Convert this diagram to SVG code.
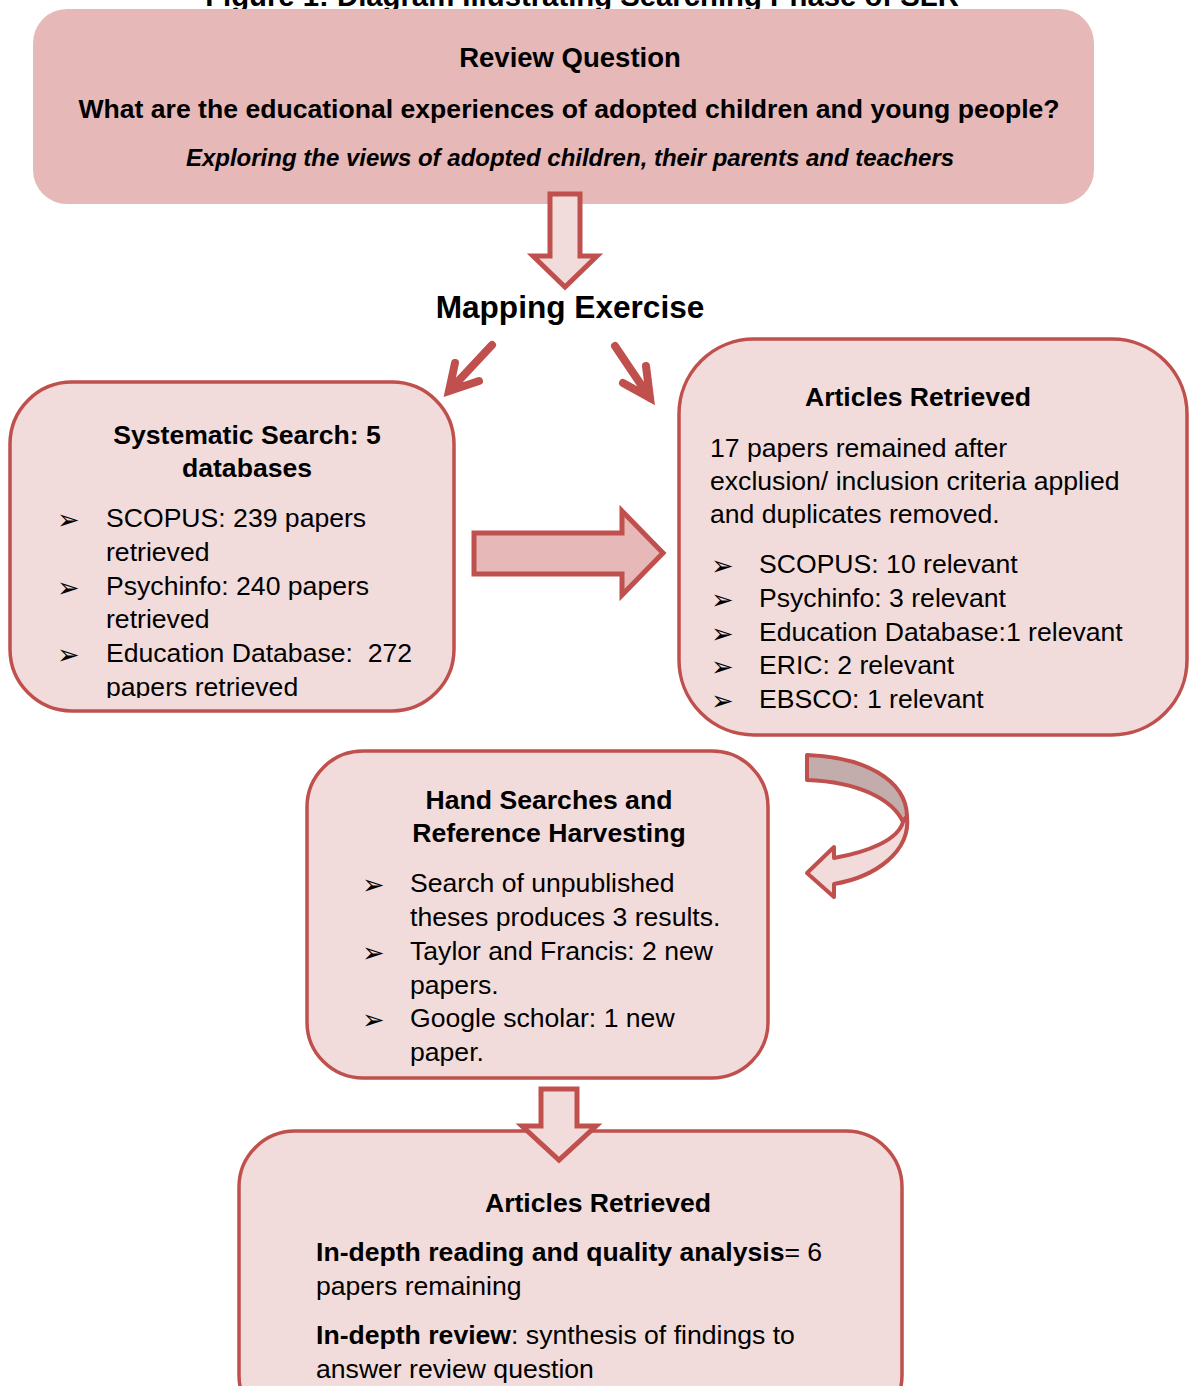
<svg xmlns="http://www.w3.org/2000/svg" width="1190" height="1386" viewBox="0 0 1190 1386">
<style>
text{font-family:"Liberation Sans",Arial,sans-serif;fill:#000;}
.b{font-weight:bold;}
.t{font-size:26.6px;}
.c{text-anchor:middle;}
.bul{font-family:"DejaVu Sans",sans-serif;font-size:27px;}
.box{fill:#f2dcdb;stroke:#c0504d;stroke-width:3.5;}
.blk{stroke:#c0504d;stroke-width:5;stroke-linejoin:miter;}
.diag{fill:none;stroke:#c0504d;stroke-width:8;stroke-linecap:round;}
</style>
<defs>
<clipPath id="clipL"><rect x="0" y="370" width="470" height="328"/></clipPath>
</defs>
<rect width="1190" height="1386" fill="#fff"/>
<text class="b c" x="582" y="6" font-size="29.3">Figure 1: Diagram Illustrating Searching Phase of SLR</text>

<g id="review-question">
<rect x="33" y="9" width="1061" height="195" rx="34" fill="#e6b8b7"/>
<text class="b c" x="570" y="67" font-size="27.5">Review Question</text>
<text class="b c t" x="569" y="118">What are the educational experiences of adopted children and young people?</text>
<text class="b c" x="570" y="166" font-size="24" font-style="italic">Exploring the views of adopted children, their parents and teachers</text>
</g>

<g id="mapping-exercise">
<text class="b c" x="570" y="318" font-size="31.6">Mapping Exercise</text>
</g>

<g id="systematic-search">
<rect class="box" x="10" y="382" width="444" height="329" rx="62"/>
<text class="b c t" x="247" y="444">Systematic Search: 5</text>
<text class="b c t" x="247" y="477">databases</text>
<g clip-path="url(#clipL)">
<text class="bul" x="57" y="529">➢</text>
<text class="t" x="106" y="527">SCOPUS: 239 papers</text>
<text class="t" x="106" y="561">retrieved</text>
<text class="bul" x="57" y="597">➢</text>
<text class="t" x="106" y="595">Psychinfo: 240 papers</text>
<text class="t" x="106" y="628">retrieved</text>
<text class="bul" x="57" y="664">➢</text>
<text class="t" x="106" y="662" xml:space="preserve">Education Database:  272</text>
<text class="t" x="106" y="696">papers retrieved</text>
</g>
</g>

<g id="articles-retrieved-1">
<rect class="box" x="679" y="339" width="508" height="396" rx="75"/>
<text class="b c t" x="918" y="406">Articles Retrieved</text>
<text class="t" x="710" y="457">17 papers remained after</text>
<text class="t" x="710" y="490">exclusion/ inclusion criteria applied</text>
<text class="t" x="710" y="523">and duplicates removed.</text>
<text class="bul" x="711" y="575">➢</text>
<text class="t" x="759" y="573">SCOPUS: 10 relevant</text>
<text class="bul" x="711" y="609">➢</text>
<text class="t" x="759" y="607">Psychinfo: 3 relevant</text>
<text class="bul" x="711" y="643">➢</text>
<text class="t" x="759" y="641">Education Database:1 relevant</text>
<text class="bul" x="711" y="676">➢</text>
<text class="t" x="759" y="674">ERIC: 2 relevant</text>
<text class="bul" x="711" y="710">➢</text>
<text class="t" x="759" y="708">EBSCO: 1 relevant</text>
</g>

<g id="hand-searches">
<rect class="box" x="307" y="751" width="461" height="327" rx="56"/>
<text class="b c t" x="549" y="809">Hand Searches and</text>
<text class="b c t" x="549" y="842">Reference Harvesting</text>
<text class="bul" x="362" y="894">➢</text>
<text class="t" x="410" y="892">Search of unpublished</text>
<text class="t" x="410" y="926">theses produces 3 results.</text>
<text class="bul" x="362" y="962">➢</text>
<text class="t" x="410" y="960">Taylor and Francis: 2 new</text>
<text class="t" x="410" y="994">papers.</text>
<text class="bul" x="362" y="1029">➢</text>
<text class="t" x="410" y="1027">Google scholar: 1 new</text>
<text class="t" x="410" y="1061">paper.</text>
</g>

<g id="articles-retrieved-2">
<rect class="box" x="239" y="1131" width="663" height="300" rx="56"/>
<text class="b c t" x="598" y="1212">Articles Retrieved</text>
<text class="t" x="316" y="1261"><tspan class="b">In-depth reading and quality analysis</tspan>= 6</text>
<text class="t" x="316" y="1295">papers remaining</text>
<text class="t" x="316" y="1344"><tspan class="b">In-depth review</tspan>: synthesis of findings to</text>
<text class="t" x="316" y="1378">answer review question</text>
</g>

<g id="connectors">
<polygon class="blk" fill="#f2dcdb" points="550,194 580,194 580,256 597,256 565,287 533,256 550,256"/>
<path class="diag" d="M492,345 L449,391 M455,363 L449,391 L479,381"/>
<path class="diag" d="M615,346 L650,398 M646,366 L650,398 L623,383"/>
<polygon class="blk" fill="#e6b8b7" points="474,533 622,533 622,511 663,553 622,595 622,574 474,574"/>
<path d="M807,755 C865,757 906,780 907,816 L903,822 C893,800 860,782 807,780 Z" fill="#c3adac" stroke="#c0504d" stroke-width="4" stroke-linejoin="round"/>
<path d="M907,816 C911,852 875,877 834,884 L834,897 L807,873 L834,847 L834,858 C868,852 898,840 903,822 Z" fill="#f2dcdb" stroke="#c0504d" stroke-width="4" stroke-linejoin="round"/>
<polygon class="blk" fill="#f2dcdb" points="541,1089 577,1089 577,1126 596,1126 559,1160 522,1126 541,1126"/>
</g>
</svg>
